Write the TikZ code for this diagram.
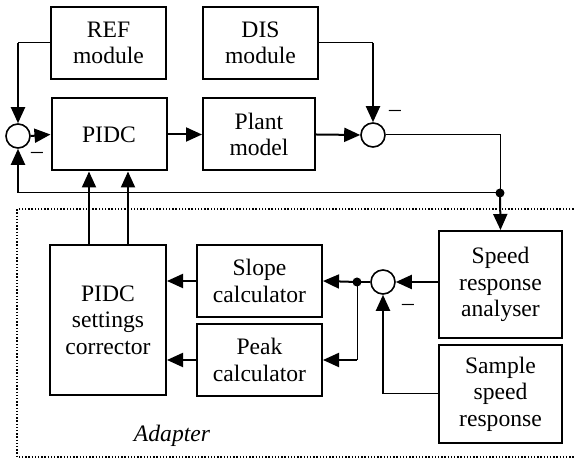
\documentclass[tikz,border=0pt]{standalone}
\usepackage{fontspec}
\setmainfont{Liberation Serif}
\usetikzlibrary{arrows.meta, positioning, calc}
\tikzset{
  txt/.style={font=\fontsize{11.8}{13.3}\selectfont},
  block/.style={draw, line width=1pt, minimum width=57.5pt, minimum height=36pt,
    align=center, inner sep=1pt, txt},
  sumnode/.style={draw, circle, line width=0.8pt, minimum size=12pt, inner sep=0pt},
  sig/.style={line width=1pt, -{Triangle[length=8pt, width=7pt]}},
  thickwire/.style={line width=1pt},
  wire/.style={line width=0.5pt},
  joint/.style={circle, fill, inner sep=0pt, minimum size=4.5pt},
  minus/.style={txt, inner sep=0pt},
  adapterbox/.style={line width=0.6pt, dash pattern=on 0.7pt off 0.9pt},
}

\begin{document}
\begin{tikzpicture}[x=0.5pt, y=-0.5pt]
  \useasboundingbox (0,0) rectangle (574,458);

  % adapter frame
  \draw[adapterbox] (580,209) -- (17,209) -- (17,457) -- (580,457);
  \node[txt, font=\fontsize{11.8}{13.3}\selectfont\itshape] (adapter) at (172,436) {Adapter};

  % main loop
  \node[block] (ref) at (108.5,43) {REF\\module};
  \node[block] (dis) at (260.5,43) {DIS\\module};
  \node[block] (pidc) at (109,134.5) {PIDC};
  \node[block, minimum width=56pt] (plant) at (259,134.5) {Plant\\model};
  \node[sumnode] (sumL) at (18,136) {};
  \node[sumnode] (sumR) at (373,135) {};
  \node[minus] (mL) at (37,155) {–};
  \node[minus] (mR) at (395,113) {–};

  % adapter blocks
  \node[block, minimum width=58pt, minimum height=75pt] (corr) at (108,320)
    {PIDC\\settings\\corrector};
  \node[block, minimum width=62.5pt] (slope) at (259.5,281) {Slope\\calculator};
  \node[block, minimum width=62.5pt] (peak) at (259.5,360) {Peak\\calculator};
  \node[block, minimum width=61.5pt, minimum height=53.5pt] (analyser) at (500.5,284.5)
    {Speed\\response\\analyser};
  \node[block, minimum width=61.5pt, minimum height=49pt] (sample) at (500.5,394)
    {Sample\\speed\\response};
  \node[sumnode] (sumA) at (383,282) {};
  \node[minus] (mA) at (408,307) {–};

  % junctions
  \node[joint] (outdot) at (500,193) {};
  \node[joint] (splitdot) at (357,282) {};
  \coordinate (outc) at (sumR.east -| outdot);
  \coordinate (refc) at (sumL |- ref.west);
  \coordinate (disc) at (sumR |- dis.east);
  \coordinate (fbc) at (sumL |- outdot);
  \coordinate (peakc) at (splitdot |- peak.east);
  \coordinate (samplec) at (sumA |- sample.west);

  % upper loop
  \draw[wire] (ref.west) -- (refc);
  \draw[sig] (refc) -- (sumL.north);
  \draw[wire] (dis.east) -- (disc);
  \draw[sig] (disc) -- (sumR.north);
  \draw[sig] (sumL.east) -- (pidc.west);
  \draw[sig] (pidc.east) -- (plant.west);
  \draw[sig] (plant.east) -- (sumR.west);
  \draw[wire] (sumR.east) -- (outc) -- (outdot.center);
  \draw[sig] (outdot.center) -- (analyser.north);
  \draw[wire] (outdot.center) -- (fbc);
  \draw[sig] (fbc) -- (sumL.south);

  % corrector to PIDC
  \draw[sig] ([xshift=-9.5pt]corr.north) -- ([xshift=-9.5pt]corr.north |- pidc.south);
  \draw[sig] ([xshift=10pt]corr.north) -- ([xshift=10pt]corr.north |- pidc.south);

  % adapter signals
  \draw[sig] (analyser.west |- sumA) -- (sumA.east);
  \draw[thickwire] (sumA.west) -- (splitdot.center);
  \draw[sig] (splitdot.center) -- (slope.east);
  \draw[wire] (splitdot.center) -- (peakc);
  \draw[sig] (peakc) -- (peak.east);
  \draw[wire] (sample.west |- samplec) -- (samplec);
  \draw[sig] (samplec) -- (sumA.south);
  \draw[sig] (slope.west) -- (slope.west -| corr.east);
  \draw[sig] (peak.west) -- (peak.west -| corr.east);
\end{tikzpicture}
\end{document}
